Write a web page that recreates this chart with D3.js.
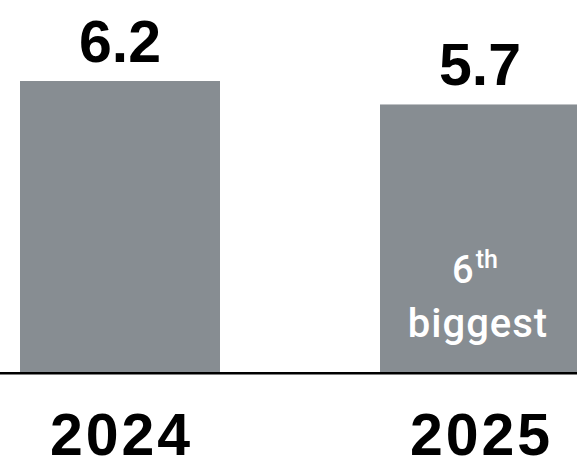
<!DOCTYPE html>
<html>
<head>
<meta charset="utf-8">
<script src="https://cdn.jsdelivr.net/npm/d3@7"></script>
<style>
  html, body { margin: 0; padding: 0; background: #fff; }
  svg { display: block; }
</style>
</head>
<body>
<svg id="chart" width="577" height="459"></svg>
<script>
const years = ["2024", "2025"];
const values = [6.2, 5.7];
const valueLabels = ["6.2", "5.7"];
const rankNote = { year: "2025", rank: "6", suffix: "th", word: "biggest" };

const W = 577, H = 459;
const svg = d3.select("#chart");
const font = "'Liberation Sans', Arial, sans-serif";
const noteFont = "Roboto, 'Liberation Sans', Arial, sans-serif";

const x = d3.scaleBand().domain(years).range([20, 580]).paddingInner(4 / 9).paddingOuter(0);
const y = d3.scaleLinear().domain([0, 6.2]).range([372, 81]);

const data = years.map((yr, i) => ({ year: yr, value: values[i], label: valueLabels[i] }));

svg.selectAll("rect.bar").data(data).enter().append("rect")
  .attr("class", "bar")
  .attr("x", d => x(d.year))
  .attr("width", x.bandwidth())
  .attr("y", d => y(d.value))
  .attr("height", d => y(0) - y(d.value))
  .attr("fill", "#878d92");

// baseline
svg.append("line")
  .attr("x1", 0).attr("x2", W)
  .attr("y1", y(0) + 1.2).attr("y2", y(0) + 1.2)
  .attr("stroke", "#000").attr("stroke-width", 2.5);

// value labels
svg.selectAll("text.val").data(data).enter().append("text")
  .attr("class", "val")
  .attr("x", d => x(d.year) + x.bandwidth() / 2)
  .attr("y", d => y(d.value) - 19)
  .attr("text-anchor", "middle")
  .attr("font-family", font)
  .attr("font-weight", "bold")
  .attr("font-size", 59)
  .attr("fill", "#000")
  .text(d => d.label);

// year axis labels
const xAxis = d3.axisBottom(x).tickSize(0).tickPadding(0);
const gx = svg.append("g").attr("transform", `translate(0,${y(0)})`).call(xAxis);
gx.select(".domain").remove();
gx.selectAll(".tick text")
  .attr("y", 83)
  .attr("dy", 0)
  .attr("font-family", font)
  .attr("font-weight", "bold")
  .attr("font-size", 59)
  .attr("letter-spacing", 3)
  .attr("dx", 1.5)
  .attr("fill", "#000");

// note inside 2025 bar
const cx = x(rankNote.year) + x.bandwidth() / 2;
const t1 = svg.append("text")
  .attr("x", cx - 5).attr("y", 283)
  .attr("text-anchor", "middle")
  .attr("font-family", noteFont)
  .attr("font-weight", 500)
  .attr("font-size", 38)
  .attr("fill", "#fff");
t1.append("tspan").text(rankNote.rank);
t1.append("tspan").attr("font-size", 25).attr("dy", -15).attr("dx", 2).text(rankNote.suffix);

svg.append("text")
  .attr("x", cx - 2).attr("y", 337)
  .attr("text-anchor", "middle")
  .attr("font-family", noteFont)
  .attr("font-weight", 500)
  .attr("font-size", 40)
  .attr("letter-spacing", 1)
  .attr("fill", "#fff")
  .text(rankNote.word);
</script>
</body>
</html>
